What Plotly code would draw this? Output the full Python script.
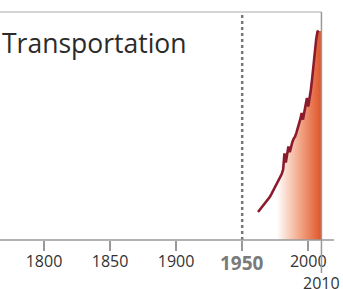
import plotly.graph_objects as go

years = list(range(1962, 2009))
values = [12.3, 13.0, 13.8, 14.6, 15.4, 16.2, 16.9, 17.6, 18.3, 19.0,
          20.0, 21.1, 21.8, 23.0, 24.1, 25.4, 26.5, 27.6, 29.0, 31.0,
          38.0, 34.0, 37.0, 41.0, 38.5, 41.0, 43.0, 44.5, 45.3, 47.0,
          48.8, 50.8, 53.0, 55.7, 52.8, 56.0, 59.0, 62.3, 58.5, 61.5,
          66.0, 71.0, 77.0, 83.0, 88.0, 91.4, 91.7]
tick_years = [1800, 1850, 1900, 1950, 2000]
tick_text = ["1800", "1850", "1900", "", "2000"]
marker_year = 1950
end_year = 2010
title_text = "Transportation"
axis_title = "Year"

X0, X1 = 1766.7, 2026.3
FONT = "Open Sans"

fig = go.Figure()
fill_x = years + [end_year]
fill_y = values + [values[-1]]
fig.add_trace(go.Scatter(
    x=fill_x, y=fill_y, mode="lines", line=dict(width=0),
    fill="tozeroy",
    fillgradient=dict(type="horizontal", start=1976, stop=end_year,
                      colorscale=[[0, "#ffffff"],
                                  [0.5, "#f2aa8c"],
                                  [1, "#df5428"]]),
    hoverinfo="skip", showlegend=False))
fig.add_trace(go.Scatter(
    x=years, y=values, mode="lines",
    line=dict(color="#8b1b2c", width=2.6), showlegend=False))

# 1950 dotted reference line
fig.add_shape(type="line", xref="x", yref="paper", x0=marker_year, x1=marker_year,
              y0=0, y1=1, line=dict(color="#777777", width=2.5, dash="3px,3px"))
# top border
fig.add_shape(type="line", xref="paper", yref="paper", x0=0, x1=(end_year - X0) / (X1 - X0),
              y0=1, y1=1, line=dict(color="#aaaaaa", width=1.2))
# right border (extends as a long 2010 tick)
fig.add_shape(type="line", xref="x", yref="paper", x0=end_year, x1=end_year,
              y0=-0.145, y1=1, line=dict(color="#999999", width=1.5))
# x axis line
fig.add_shape(type="line", xref="paper", yref="paper", x0=0, x1=(2019.5 - X0) / (X1 - X0),
              y0=0, y1=0, line=dict(color="#999999", width=1.5))

fig.add_annotation(x=0.0, y=(240 - 43) / 228 * 100, xref="paper", yref="y", text=title_text,
                   showarrow=False, xanchor="left", yanchor="middle",
                   font=dict(family=FONT, size=26.5, color="#2b2b2b"))
fig.add_annotation(x=marker_year, y=0, xref="x", yref="paper", yshift=-23,
                   text="<b>1950</b>", showarrow=False, yanchor="middle",
                   font=dict(family=FONT, size=19, color="#7a7a7a"))
fig.add_annotation(x=end_year, y=0, xref="x", yref="paper", yshift=-43,
                   text=str(end_year), showarrow=False, yanchor="middle",
                   font=dict(family=FONT, size=16, color="#333333"))
fig.add_annotation(x=152 / 343, y=0, xref="paper", yref="paper", yshift=-52,
                   text=axis_title, showarrow=False, yanchor="top",
                   font=dict(family=FONT, size=16, color="#333333"))

fig.update_layout(
    width=343, height=289,
    margin=dict(l=0, r=0, t=12, b=49),
    paper_bgcolor="white", plot_bgcolor="white",
    xaxis=dict(range=[X0, X1], tickvals=tick_years, ticktext=tick_text,
               ticks="outside", ticklen=10, tickwidth=1.5, tickcolor="#999999",
               ticklabelstandoff=-3,
               showgrid=False, zeroline=False, showline=False,
               tickfont=dict(family=FONT, size=16, color="#333333")),
    yaxis=dict(range=[0, 100], visible=False, showgrid=False, zeroline=False),
    font=dict(family=FONT),
)
fig.write_html("out.html", config={"displayModeBar": False},
               post_script="document.body.style.margin='0';document.body.style.overflow='hidden';")
